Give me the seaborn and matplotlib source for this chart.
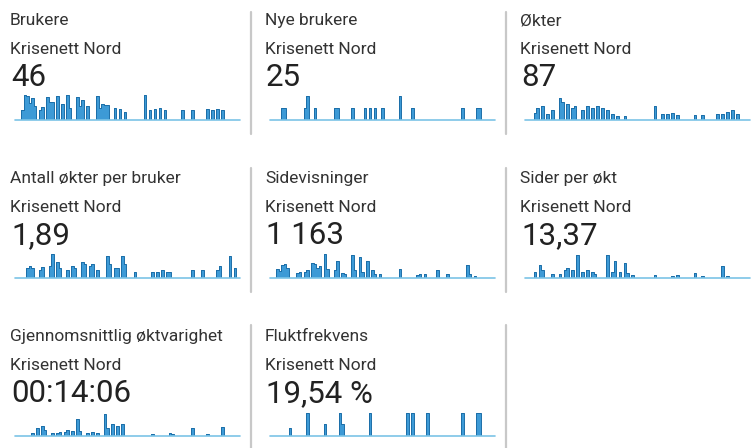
import numpy as np
import pandas as pd
import seaborn as sns
import matplotlib.pyplot as plt

# --- data: hourly values (91 points each) ---
hours = list(range(91))

brukere = [
    0, 0, 0, 10, 25, 24, 17, 22, 14, 0,
    10, 13, 0, 23, 18, 18, 0, 24, 0, 16,
    0, 25, 12, 0, 0, 23, 14, 20, 0, 14,
    0, 0, 0, 24, 12, 16, 15, 15, 0, 0,
    12, 0, 11, 0, 8, 0, 0, 0, 0, 0,
    0, 0, 25, 0, 10, 0, 11, 0, 12, 0,
    10, 0, 0, 0, 0, 0, 0, 10, 0, 0,
    0, 10, 0, 0, 0, 0, 0, 11, 0, 10,
    0, 11, 0, 10, 0, 0, 0, 0, 0, 0,
    0]

nye_brukere = [
    0, 0, 0, 0, 0, 1, 1, 0, 0, 0,
    0, 0, 0, 0, 1, 2, 0, 0, 1, 0,
    0, 0, 0, 0, 0, 0, 1, 1, 0, 0,
    0, 0, 0, 1, 0, 0, 0, 0, 1, 0,
    1, 0, 1, 0, 0, 1, 0, 0, 0, 0,
    0, 0, 2, 0, 0, 0, 0, 1, 0, 0,
    0, 0, 0, 0, 0, 0, 0, 0, 0, 0,
    0, 0, 0, 0, 0, 0, 0, 1, 0, 0,
    0, 0, 0, 1, 1, 0, 0, 0, 0, 0,
    0]

okter = [
    0, 0, 0, 0, 7, 12, 0, 14, 0, 6,
    0, 10, 0, 0, 22, 18, 0, 16, 0, 12,
    14, 0, 0, 10, 0, 14, 0, 12, 0, 14,
    0, 12, 0, 10, 0, 6, 0, 4, 0, 0,
    4, 0, 0, 0, 0, 0, 0, 0, 0, 0,
    0, 0, 14, 0, 0, 6, 0, 6, 0, 7,
    0, 5, 0, 0, 0, 0, 0, 0, 5, 0,
    0, 5, 0, 0, 0, 0, 0, 6, 0, 6,
    0, 8, 0, 10, 0, 6, 0, 0, 0, 0,
    0]

okter_per_bruker = [
    0, 0, 0, 0, 0, 10, 12, 10, 0, 0,
    8, 11, 0, 0, 12, 24, 0, 16, 10, 0,
    0, 8, 0, 12, 10, 0, 0, 16, 14, 0,
    12, 14, 0, 8, 0, 0, 0, 22, 14, 0,
    10, 10, 0, 22, 14, 0, 0, 0, 6, 0,
    0, 0, 0, 0, 0, 6, 0, 6, 0, 8,
    0, 6, 6, 0, 0, 0, 0, 0, 0, 0,
    0, 8, 0, 0, 0, 8, 0, 0, 0, 0,
    0, 8, 12, 0, 0, 0, 22, 0, 10, 0,
    0]

sidevisninger = [
    0, 0, 0, 9, 7, 13, 14, 10, 0, 0,
    0, 5, 6, 0, 6, 8, 0, 15, 14, 10,
    12, 0, 24, 9, 0, 0, 8, 17, 0, 5,
    4, 0, 0, 23, 8, 0, 21, 6, 0, 17,
    0, 8, 4, 0, 4, 0, 0, 0, 0, 0,
    0, 0, 9, 0, 0, 0, 0, 0, 0, 3,
    4, 0, 4, 0, 0, 0, 0, 8, 0, 0,
    0, 4, 0, 0, 0, 0, 0, 0, 0, 13,
    4, 0, 2, 0, 0, 0, 0, 0, 0, 0,
    0]

sider_per_okt = [
    0, 0, 0, 0, 6, 0, 13, 8, 0, 0,
    0, 4, 0, 0, 4, 0, 8, 10, 0, 8,
    0, 23, 0, 6, 0, 8, 0, 6, 4, 0,
    0, 0, 0, 23, 0, 6, 17, 0, 6, 0,
    15, 5, 0, 3, 0, 0, 0, 0, 0, 0,
    0, 0, 3, 0, 0, 0, 0, 0, 0, 2,
    0, 3, 0, 0, 0, 0, 0, 0, 5, 0,
    0, 2, 0, 0, 0, 0, 0, 0, 0, 12,
    0, 2, 0, 0, 0, 0, 0, 0, 0, 0,
    0]

oktvarighet = [
    0, 0, 0, 0, 0, 0, 0, 3, 0, 8,
    0, 10, 6, 0, 0, 3, 0, 3, 4, 0,
    4, 6, 0, 5, 0, 17, 5, 0, 0, 3,
    0, 4, 0, 3, 0, 0, 22, 8, 0, 12,
    0, 10, 0, 12, 0, 0, 0, 0, 0, 0,
    0, 0, 0, 0, 0, 2, 0, 0, 0, 0,
    0, 0, 3, 2, 0, 0, 0, 0, 0, 0,
    0, 8, 0, 0, 0, 0, 0, 2, 0, 0,
    0, 0, 0, 9, 0, 0, 0, 0, 0, 0,
    0]

fluktfrekvens = [
    0, 0, 0, 0, 0, 0, 0, 0, 33, 0,
    0, 0, 0, 0, 0, 100, 0, 0, 0, 0,
    0, 0, 50, 0, 0, 0, 0, 0, 100, 50,
    0, 0, 0, 0, 0, 0, 0, 0, 0, 0,
    100, 0, 0, 0, 0, 0, 0, 0, 0, 0,
    0, 0, 0, 0, 0, 100, 0, 100, 0, 0,
    0, 0, 0, 100, 0, 0, 0, 0, 0, 0,
    0, 0, 0, 0, 0, 0, 0, 100, 0, 0,
    0, 0, 0, 100, 100, 0, 0, 0, 0, 0,
    0]

titles = ["Brukere", "Nye brukere", "Økter",
          "Antall økter per bruker", "Sidevisninger", "Sider per økt",
          "Gjennomsnittlig øktvarighet", "Fluktfrekvens"]
totals = ["46", "25", "87", "1,89", "1 163", "13,37", "00:14:06", "19,54 %"]
series = [brukere, nye_brukere, okter, okter_per_bruker, sidevisninger,
          sider_per_okt, oktvarighet, fluktfrekvens]
# top of y-axis for each sparkline (same units as the series)
ymax = [27, 2.25, 27, 27, 27, 27, 27, 117]
segment = "Krisenett Nord"

W, H = 755, 448


def px(x, y):
    # pixel coords (from top-left) -> figure fraction
    return x / W, 1 - y / H


def dashboard():
    sns.set_theme(style="white")
    plt.rcParams['font.family'] = ['Roboto', 'DejaVu Sans']

    fig = plt.figure(figsize=(W / 100, H / 100), dpi=100)
    fig.patch.set_facecolor("white")

    col_x = [10, 265, 520]
    row_y = [0, 158, 316]

    for k, (title, total, vals) in enumerate(zip(titles, totals, series)):
        r, c = divmod(k, 3)
        x0, y0 = col_x[c], row_y[r]

        fig.text(*px(x0, y0 + 25), title, fontsize=12.5, color="#333333",
                 va="baseline", ha="left")
        fig.text(*px(x0, y0 + 54), segment, fontsize=12.5, color="#333333",
                 va="baseline", ha="left")
        fig.text(*px(x0 + 1, y0 + 86), total, fontsize=22.5, color="#222222",
                 va="baseline", ha="left")

        # sparkline (hourly values, drawn as narrow steps)
        left, bottom = px(x0 + 5, y0 + 120)
        ax = fig.add_axes([left, bottom, 225 / W, 27 / H])
        df = pd.DataFrame({"hour": hours, "value": vals})
        ax.fill_between(df["hour"], df["value"], step="mid",
                        color="#3d9ad6", lw=0)
        sns.lineplot(data=df, x="hour", y="value", ax=ax, color="#1b6ea8",
                     linewidth=0.7, drawstyle="steps-mid")
        ax.axhline(0, color="#7cc3e6", lw=1.2, clip_on=False, zorder=5)
        ax.set_xlim(0, 90)
        ax.set_ylim(0, ymax[k])
        ax.axis("off")

    # grey separators between the tiles
    for ya, yb in [(12, 134), (168, 292), (325, 448)]:
        for xs in (251, 506):
            fig.add_artist(plt.Line2D([xs / W, xs / W], [1 - ya / H, 1 - yb / H],
                                      color="#c8c8c8", lw=1.6))

    fig.savefig("out.png", dpi=100, facecolor="white")


if __name__ == "__main__":
    dashboard()
